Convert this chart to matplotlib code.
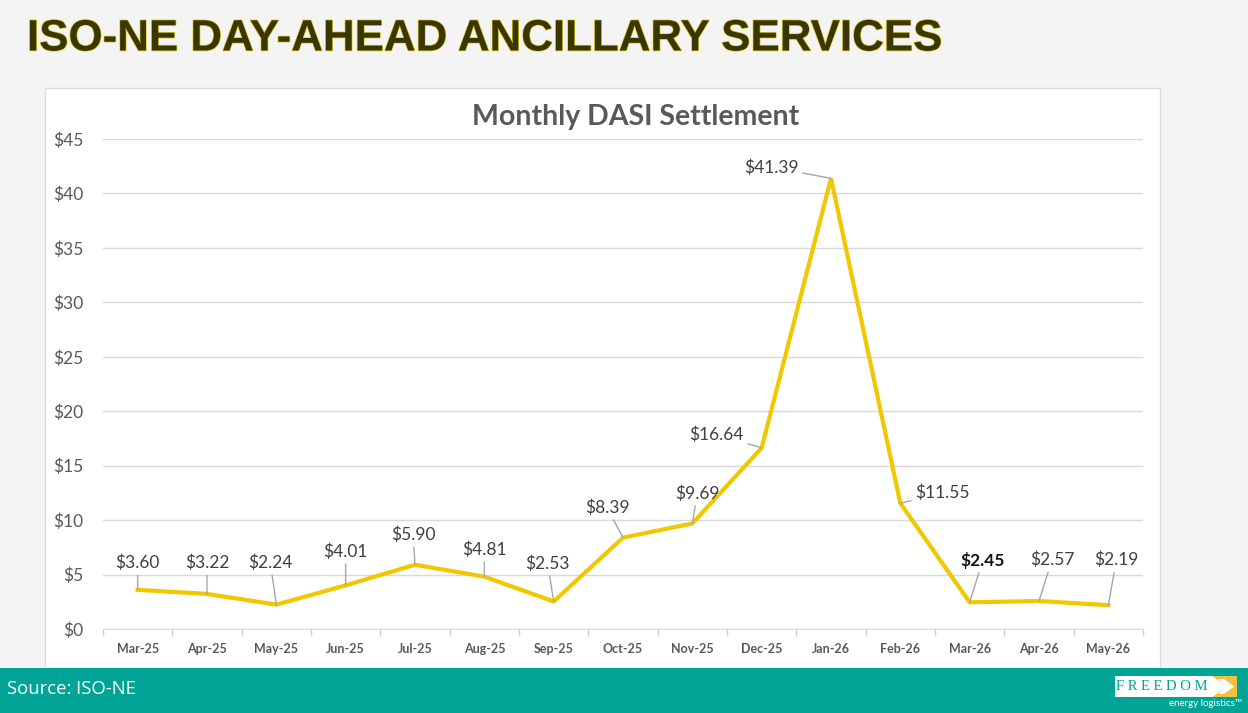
import numpy as np
import matplotlib
matplotlib.use("Agg")
import matplotlib.pyplot as plt
from matplotlib.patches import Rectangle, Polygon
import matplotlib.patheffects as pe

# ---- data ----
months = ["Mar-25", "Apr-25", "May-25", "Jun-25", "Jul-25", "Aug-25", "Sep-25",
          "Oct-25", "Nov-25", "Dec-25", "Jan-26", "Feb-26", "Mar-26", "Apr-26", "May-26"]
values = [3.60, 3.22, 2.24, 4.01, 5.90, 4.81, 2.53, 8.39, 9.69, 16.64, 41.39, 11.55, 2.45, 2.57, 2.19]
yticks = [0, 5, 10, 15, 20, 25, 30, 35, 40, 45]
title = "Monthly DASI Settlement"
header = "ISO-NE DAY-AHEAD ANCILLARY SERVICES"
source = "Source: ISO-NE"

# label offsets in pixels (dx, dy up) -- styling only
label_offsets = [(0, 27), (0, 31), (-6, 42), (0, 34), (-2, 30), (0, 27), (-6, 38),
                 (-16, 30), (5, 30), (-45, 13), (-60, 11), (42, 10), (13, 42), (13, 41), (8, 45)]

W, H = 1248, 713
plt.rcParams['font.family'] = ['Lato', 'DejaVu Sans']
fig = plt.figure(figsize=(W / 100, H / 100), dpi=100)
fig.patch.set_facecolor('#f4f4f4')

# background overlay axes in pixel coords
bg = fig.add_axes([0, 0, 1, 1], zorder=0)
bg.set_xlim(0, W)
bg.set_ylim(H, 0)
bg.axis('off')
bg.add_patch(Rectangle((45, 88), 1115, 580, facecolor='white', edgecolor='#dcdcdc', lw=1))
bg.add_patch(Rectangle((0, 668), W, 45, facecolor='#00a497', edgecolor='none'))

bg.text(27, 39, header, fontsize=31.6, fontweight='bold', color='#3b3500',
        family=['Liberation Sans', 'DejaVu Sans'],
        ha='left', va='center',
        path_effects=[pe.withStroke(linewidth=1.0, foreground='#d8c81a')])
bg.text(636, 117, title, fontsize=20.5, fontweight='bold', color='#595959',
        ha='center', va='center')
bg.text(7, 689, source, fontsize=13.3, color='white', family=['Open Sans', 'DejaVu Sans'],
        ha='left', va='center')

# logo
bg.add_patch(Rectangle((1203, 676), 34, 21, facecolor='#f0c040', edgecolor='none'))
bg.add_patch(Polygon([(1115, 676), (1212, 676), (1227, 686.5), (1212, 697), (1115, 697)],
                     closed=True, facecolor='white', edgecolor='none'))
bg.add_patch(Polygon([(1218, 679), (1224, 679), (1234, 686.5), (1224, 694), (1218, 694), (1226, 686.5)],
                     closed=True, facecolor='white', edgecolor='none'))
bg.text(1162, 687, "F R E E D O M", fontsize=10.5, color='#00a497',
        family=['Liberation Serif', 'DejaVu Serif'], ha='center', va='center')
bg.text(1242, 704, "energy logistics\u2122", fontsize=7, color='white', ha='right', va='center')

# chart axes
left, right = 103, 1143
y0, y45 = 629, 139
ax = fig.add_axes([left / W, (H - y0) / H, (right - left) / W, (y0 - y45) / H], zorder=1)
ax.set_facecolor('none')
x = np.arange(len(months))
ax.plot(x, values, color='#f0c800', lw=3, solid_joinstyle='miter', zorder=3)
ax.set_xlim(-0.5, len(months) - 0.5)
ax.set_ylim(0, 45)

ax.set_yticks(yticks)
ax.set_yticklabels([f"${v}" for v in yticks], fontsize=12.5, color='#595959')
ax.tick_params(axis='y', length=0, pad=14)
ax.yaxis.grid(True, color='#d9d9d9', lw=1)
ax.set_axisbelow(True)

ax.set_xticks(np.arange(-0.5, len(months), 1))
ax.set_xticklabels([])
ax.tick_params(axis='x', which='major', length=5, color='#d0d0d0', width=1)
ax.set_xticks(x, minor=True)
ax.set_xticklabels(months, minor=True, fontsize=9, fontweight='bold', color='#595959')
ax.tick_params(axis='x', which='minor', length=0, pad=10)

for s in ['top', 'right', 'left']:
    ax.spines[s].set_visible(False)
ax.spines['bottom'].set_color('#d9d9d9')

for i, (v, (dx, dy)) in enumerate(zip(values, label_offsets)):
    bold = (months[i] == "Mar-26")
    ax.annotate(f"${v:.2f}", xy=(i, v), xytext=(dx, dy), textcoords='offset pixels',
                ha='center', va='center', fontsize=12.5,
                fontweight='bold' if bold else 'normal',
                color='#111111' if bold else '#404040',
                arrowprops=dict(arrowstyle='-', color='#a6a6a6', lw=1, shrinkA=1, shrinkB=0))

fig.savefig('out.png', dpi=100, facecolor=fig.get_facecolor())
